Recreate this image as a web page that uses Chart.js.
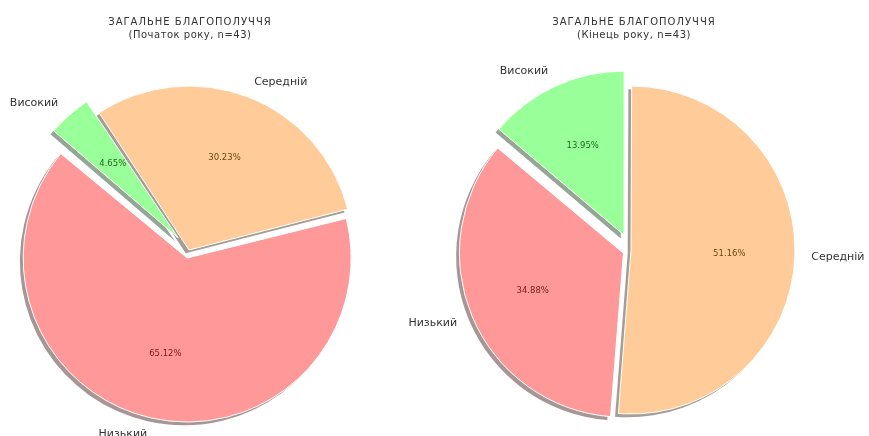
<!DOCTYPE html>
<html>
<head>
<meta charset="utf-8">
<script src="https://cdn.jsdelivr.net/npm/chart.js@4.4.1/dist/chart.umd.min.js"></script>
<style>
    body { margin: 0; background: #fff; width: 869px; height: 436px; overflow: hidden; position: relative; font-family: "DejaVu Sans", sans-serif; }
    .box { position: absolute; top: 0; height: 436px; }
    .ttl { position: absolute; top: 15px; width: 300px; text-align: center; font-size: 10px; line-height: 13px; color: #333; }
    .ttl b { font-weight: normal; letter-spacing: 1px; }
    .ttl span { letter-spacing: 0.5px; }
</style>
</head>
<body>
<div class="box" style="left:0;width:434px"><canvas id="pieStart"></canvas></div>
<div class="box" style="left:390px;width:479px"><canvas id="pieEnd"></canvas></div>
<div class="ttl" style="left:40px"><b>ЗАГАЛЬНЕ БЛАГОПОЛУЧЧЯ</b><br><span>(Початок року, n=43)</span></div>
<div class="ttl" style="left:484px"><b>ЗАГАЛЬНЕ БЛАГОПОЛУЧЧЯ</b><br><span>(Кінець року, n=43)</span></div>
<script>
// data (counts out of n=43)
var categories = ['Низький', 'Середній', 'Високий'];
var startCounts = [28, 13, 2];
var endCounts = [15, 22, 6];
var explode = [0.05, 0, 0.1];

var sliceColors = ['#ff9999', '#ffcc99', '#99ff99'];
var pctColors = ['#7a1c1c', '#6b4a14', '#1e6b1e'];
var RADIUS = 164;
var OFFSET_DIV = 4; // chart.js v4 arc draws offset / 4

function shade(hex) {
    var r = parseInt(hex.substr(1, 2), 16), g = parseInt(hex.substr(3, 2), 16), b = parseInt(hex.substr(5, 2), 16);
    return 'rgba(' + Math.round(r * 0.3) + ',' + Math.round(g * 0.3) + ',' + Math.round(b * 0.3) + ',0.5)';
}

// matplotlib goes counter-clockwise, chart.js clockwise -> reverse the order
var order = [2, 1, 0];

var pieExtras = {
    id: 'pieExtras',
    beforeDatasetsDraw: function (chart) {
        var ctx = chart.ctx;
        var arcs = chart.getDatasetMeta(0).data;
        // offset arcs get drawn with a bigger radius, pull them back to RADIUS
        arcs.forEach(function (arc, i) {
            var off = explode[order[i]] * RADIUS;
            var circ = arc.endAngle - arc.startAngle;
            var fix = 1 - Math.sin(Math.min(Math.PI, circ));
            arc.outerRadius = RADIUS - off * fix;
        });
        ctx.save();
        ctx.translate(-3.3, 3.3);
        arcs.forEach(function (arc, i) {
            var o = arc.options;
            arc.options = Object.assign({}, o, { backgroundColor: shade(sliceColors[order[i]]), borderColor: 'rgba(0,0,0,0)', borderWidth: 0 });
            arc.draw(ctx);
            arc.options = o;
        });
        ctx.restore();
    },
    afterDatasetsDraw: function (chart) {
        var ctx = chart.ctx;
        var meta = chart.getDatasetMeta(0);
        var values = chart.data.datasets[0].data;
        var total = values.reduce(function (a, b) { return a + b; }, 0);
        ctx.save();
        ctx.textBaseline = 'middle';
        meta.data.forEach(function (arc, i) {
            var k = order[i];
            var mid = (arc.startAngle + arc.endAngle) / 2;
            var dx = Math.cos(mid), dy = Math.sin(mid);
            var r = RADIUS;
            var shift = explode[k] * r;
            // category label
            ctx.font = '11px "DejaVu Sans", sans-serif';
            ctx.fillStyle = '#333';
            ctx.textAlign = dx < 0 ? 'right' : 'left';
            ctx.fillText(categories[k], arc.x + (shift + 1.1 * r) * dx, arc.y + (shift + 1.1 * r) * dy);
            // percent label
            ctx.font = '8.5px "DejaVu Sans", sans-serif';
            ctx.fillStyle = pctColors[k];
            ctx.textAlign = 'center';
            ctx.fillText((values[i] / total * 100).toFixed(2) + '%', arc.x + (shift + 0.6 * r) * dx, arc.y + (shift + 0.6 * r) * dy);
        });
        ctx.restore();
    }
};

function makePie(id, counts, pad) {
    var el = document.getElementById(id);
    return new Chart(el, {
        type: 'pie',
        data: {
            labels: order.map(function (k) { return categories[k]; }),
            datasets: [{
                data: order.map(function (k) { return counts[k]; }),
                backgroundColor: order.map(function (k) { return sliceColors[k]; }),
                borderColor: '#ffffff',
                borderWidth: 1,
                offset: order.map(function (k) { return explode[k] * RADIUS * OFFSET_DIV; }),
                hoverOffset: 0,
                radius: RADIUS
            }]
        },
        options: {
            responsive: true,
            maintainAspectRatio: false,
            animation: false,
            events: [],
            rotation: -50,
            layout: { padding: pad },
            plugins: {
                legend: { display: false },
                tooltip: { enabled: false },
                title: { display: false }
            }
        },
        plugins: [pieExtras]
    });
}

makePie('pieStart', startCounts, { left: 0, right: 56, top: 64, bottom: 0 });
makePie('pieEnd', endCounts, { left: 3, right: 0, top: 64, bottom: 0 });
</script>
</body>
</html>
